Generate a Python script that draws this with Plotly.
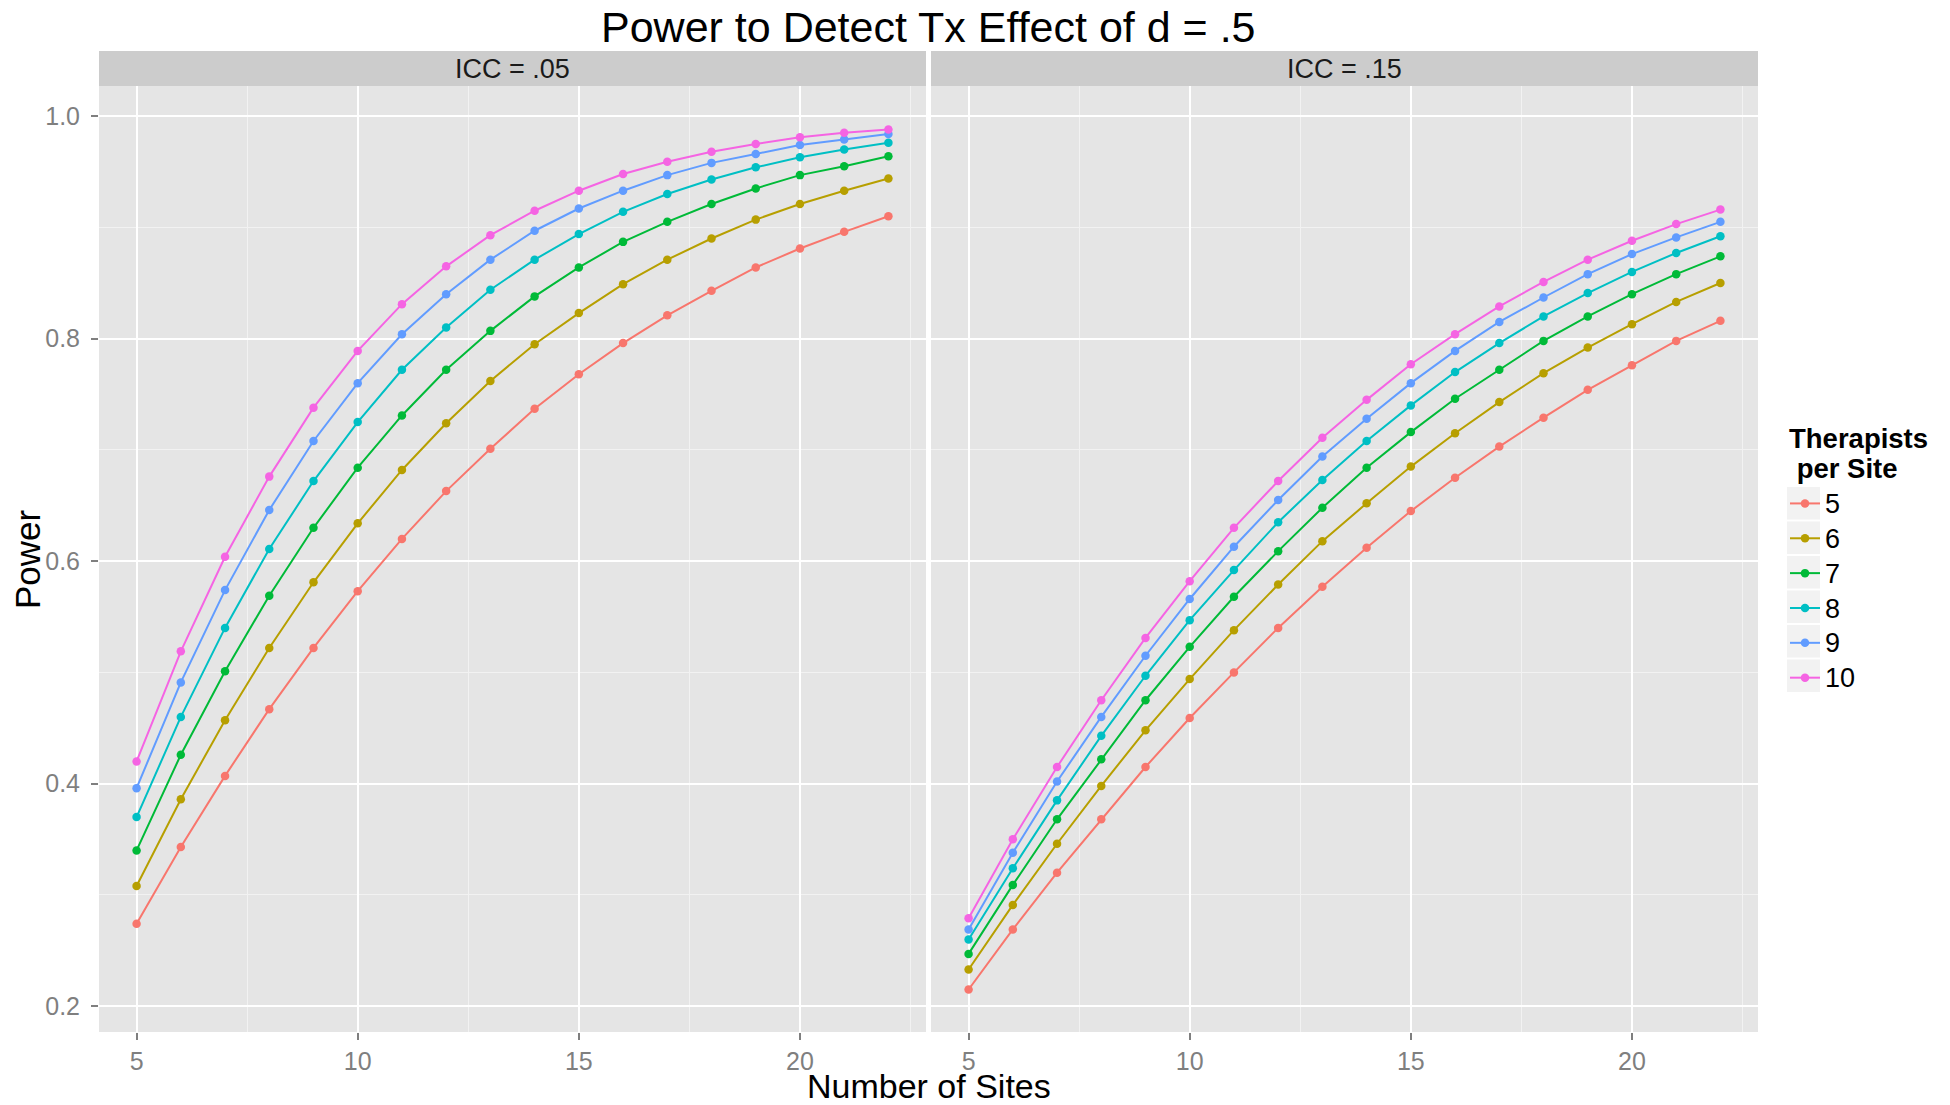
import plotly.graph_objects as go

# ---------------- data ----------------
sites = [5, 6, 7, 8, 9, 10, 11, 12, 13, 14, 15, 16, 17, 18, 19, 20, 21, 22]
therapists = ["5", "6", "7", "8", "9", "10"]
colors = ["#F8766D", "#B79F00", "#00BA38", "#00BFC4", "#619CFF", "#F564E3"]
panel_labels = ["ICC = .05", "ICC = .15"]

# ICC = .05
icc05_t5 = [0.274, 0.343, 0.407, 0.467, 0.522, 0.573, 0.620, 0.663, 0.701, 0.737, 0.768, 0.796, 0.821, 0.843, 0.864, 0.881, 0.896, 0.910]
icc05_t6 = [0.308, 0.386, 0.457, 0.522, 0.581, 0.634, 0.682, 0.724, 0.762, 0.795, 0.823, 0.849, 0.871, 0.890, 0.907, 0.921, 0.933, 0.944]
icc05_t7 = [0.340, 0.426, 0.501, 0.569, 0.630, 0.684, 0.731, 0.772, 0.807, 0.838, 0.864, 0.887, 0.905, 0.921, 0.935, 0.947, 0.955, 0.964]
icc05_t8 = [0.370, 0.460, 0.540, 0.611, 0.672, 0.725, 0.772, 0.810, 0.844, 0.871, 0.894, 0.914, 0.930, 0.943, 0.954, 0.963, 0.970, 0.976]
icc05_t9 = [0.396, 0.491, 0.574, 0.646, 0.708, 0.760, 0.804, 0.840, 0.871, 0.897, 0.917, 0.933, 0.947, 0.958, 0.966, 0.974, 0.979, 0.984]
icc05_t10 = [0.420, 0.519, 0.604, 0.676, 0.738, 0.789, 0.831, 0.865, 0.893, 0.915, 0.933, 0.948, 0.959, 0.968, 0.975, 0.981, 0.985, 0.988]

# ICC = .15
icc15_t5 = [0.215, 0.269, 0.320, 0.368, 0.415, 0.459, 0.500, 0.540, 0.577, 0.612, 0.645, 0.675, 0.703, 0.729, 0.754, 0.776, 0.798, 0.816]
icc15_t6 = [0.233, 0.291, 0.346, 0.398, 0.448, 0.494, 0.538, 0.579, 0.618, 0.652, 0.685, 0.715, 0.743, 0.769, 0.792, 0.813, 0.833, 0.850]
icc15_t7 = [0.247, 0.309, 0.368, 0.422, 0.475, 0.523, 0.568, 0.609, 0.648, 0.684, 0.716, 0.746, 0.772, 0.798, 0.820, 0.840, 0.858, 0.874]
icc15_t8 = [0.260, 0.324, 0.385, 0.443, 0.497, 0.547, 0.592, 0.635, 0.673, 0.708, 0.740, 0.770, 0.796, 0.820, 0.841, 0.860, 0.877, 0.892]
icc15_t9 = [0.269, 0.338, 0.402, 0.460, 0.515, 0.566, 0.613, 0.655, 0.694, 0.728, 0.760, 0.789, 0.815, 0.837, 0.858, 0.876, 0.891, 0.905]
icc15_t10 = [0.279, 0.350, 0.415, 0.475, 0.531, 0.582, 0.630, 0.672, 0.711, 0.745, 0.777, 0.804, 0.829, 0.851, 0.871, 0.888, 0.903, 0.916]

y_ticks = [0.2, 0.4, 0.6, 0.8, 1.0]
y_tick_text = ["0.2", "0.4", "0.6", "0.8", "1.0"]
x_ticks = [5, 10, 15, 20]
legend_title_lines = ["Therapists", " per Site"]

panels = [
    [icc05_t5, icc05_t6, icc05_t7, icc05_t8, icc05_t9, icc05_t10],
    [icc15_t5, icc15_t6, icc15_t7, icc15_t8, icc15_t9, icc15_t10],
]

FONT = "Liberation Sans, Arial, Helvetica, sans-serif"
W, H = 1950, 1105
ML, MR, MT, MB = 99, 192, 86, 73
PW = W - ML - MR
PH = H - MT - MB
STRIP_H = 35


def px_x(px):
    return (px - ML) / PW


def px_y(py):
    return (H - MB - py) / PH


fig = go.Figure()
for p, series in enumerate(panels):
    xa = "x" if p == 0 else "x2"
    ya = "y" if p == 0 else "y2"
    for name, col, vals in zip(therapists, colors, series):
        fig.add_trace(go.Scatter(
            x=sites, y=vals, mode="lines+markers",
            name='<span style="font-size:27px">%s</span>' % name,
            legendgroup=name, showlegend=(p == 0),
            line=dict(color=col, width=2),
            marker=dict(color=col, size=8.5),
            xaxis=xa, yaxis=ya,
        ))

tick_font = dict(family=FONT, size=25, color="#7f7f7f")
axis_common = dict(
    range=[4.15, 22.85], tickvals=x_ticks, ticks="outside", ticklen=7,
    tickwidth=1.5, tickcolor="#7f7f7f", tickfont=tick_font, ticklabelstandoff=0,
    showgrid=True, gridcolor="white", gridwidth=2.4, zeroline=False,
    showline=False,
    minor=dict(dtick=2.5, tick0=0, showgrid=True, gridcolor="#f2f2f2", gridwidth=1.2, ticks=""),
)
yaxis_common = dict(
    range=[0.1768, 1.0271], tickvals=y_ticks, ticktext=y_tick_text,
    ticklen=7, tickwidth=1.5, tickcolor="#7f7f7f", tickfont=tick_font,
    showgrid=True, gridcolor="white", gridwidth=2.4, zeroline=False, showline=False,
    minor=dict(dtick=0.1, tick0=0.0, showgrid=True, gridcolor="#f2f2f2", gridwidth=1.2, ticks=""),
)

gap = 5 / PW
fig.update_layout(
    width=W, height=H,
    margin=dict(l=ML, r=MR, t=MT, b=MB, pad=0),
    paper_bgcolor="white", plot_bgcolor="#e5e5e5",
    xaxis=dict(domain=[0, 0.5 - gap / 2], anchor="y", **axis_common),
    xaxis2=dict(domain=[0.5 + gap / 2, 1], anchor="y2", **axis_common),
    yaxis=dict(domain=[0, 1], anchor="x", ticks="outside", ticklabelstandoff=6, **yaxis_common),
    yaxis2=dict(domain=[0, 1], anchor="x2", matches="y", showticklabels=False, ticks="",
                **yaxis_common),
    showlegend=True,
    legend=dict(
        x=px_x(1785), xanchor="left", y=px_y(481), yanchor="top",
        bgcolor="rgba(0,0,0,0)", borderwidth=0,
        font=dict(family=FONT, size=24.5, color="black"),
        tracegroupgap=0,
    ),
    font=dict(family=FONT),
)

annotations = []
shapes = []
for p, lab in enumerate(panel_labels):
    xr = "x domain" if p == 0 else "x2 domain"
    yr = "y domain" if p == 0 else "y2 domain"
    shapes.append(dict(type="rect", xref=xr, yref=yr, x0=0, x1=1, y0=1, y1=1 + STRIP_H / PH,
                       fillcolor="#cccccc", line=dict(width=0), layer="below"))
    annotations.append(dict(xref=xr, yref=yr, x=0.5, y=1 + STRIP_H / 2 / PH, text=lab,
                            showarrow=False, xanchor="center", yanchor="middle",
                            font=dict(family=FONT, size=27, color="#1a1a1a")))

# legend key backgrounds (ggplot style grey squares)
for i in range(len(therapists)):
    top = 487 + 34.5 * i
    shapes.append(dict(type="rect", xref="paper", yref="paper",
                       x0=px_x(1787), x1=px_x(1820), y0=px_y(top + 32.5), y1=px_y(top),
                       fillcolor="#f2f2f2", line=dict(width=0), layer="above"))

# legend title (two lines, ggplot style)
for j, line in enumerate(legend_title_lines):
    annotations.append(dict(xref="paper", yref="paper", x=px_x(1787), y=px_y(438 + 30 * j),
                            text="<b>%s</b>" % line.replace(" ", "&nbsp;"), showarrow=False,
                            xanchor="left", yanchor="middle",
                            font=dict(family=FONT, size=27.5, color="black")))

annotations.append(dict(xref="paper", yref="paper", x=0.5, y=px_y(27),
                        text="Power to Detect Tx Effect of d = .5", showarrow=False,
                        xanchor="center", yanchor="middle",
                        font=dict(family=FONT, size=43, color="black")))
annotations.append(dict(xref="paper", yref="paper", x=0.5, y=px_y(1086),
                        text="Number of Sites", showarrow=False,
                        xanchor="center", yanchor="middle",
                        font=dict(family=FONT, size=34, color="black")))
annotations.append(dict(xref="paper", yref="paper", x=px_x(27), y=0.5,
                        text="Power", showarrow=False, textangle=-90,
                        xanchor="center", yanchor="middle",
                        font=dict(family=FONT, size=35, color="black")))
fig.update_layout(annotations=annotations, shapes=shapes)

fig.write_html("out.html", config={"displayModeBar": False},
               post_script="document.body.style.margin='0px';")
